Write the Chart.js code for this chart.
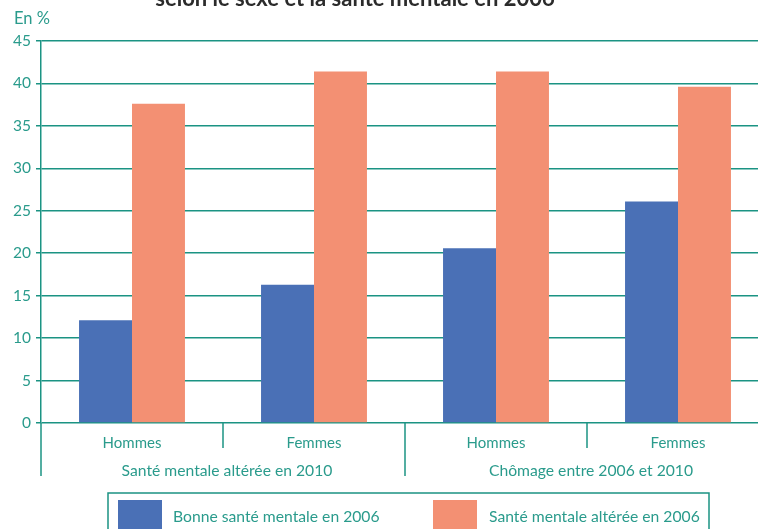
<!DOCTYPE html>
<html>
<head>
<meta charset="utf-8">
<script src="https://cdn.jsdelivr.net/npm/chart.js@4"></script>
<style>
  body { margin: 0; overflow: hidden; background: #fff; }
  #wrap { position: absolute; left: 0; top: 0; width: 769px; height: 529px; }
</style>
</head>
<body>
<div id="wrap"><canvas id="myChart"></canvas></div>
<script>
const categories = ["Hommes", "Femmes", "Hommes", "Femmes"];
const groups = ["Santé mentale altérée en 2010", "Chômage entre 2006 et 2010"];
const bonneSante = [12.1, 16.3, 20.6, 26.1];
const santeAlteree = [37.6, 41.4, 41.4, 39.6];
const seriesNames = ["Bonne santé mentale en 2006", "Santé mentale altérée en 2006"];
const titleText = "selon le sexe et la santé mentale en 2006";
const unitText = "En %";

const teal = '#1b9383';
const tealText = '#2a9b8c';
const font = 'Lato, "Open Sans", sans-serif';

// labels, separators, legend box and cut-off title
const extras = {
    id: 'extras',
    afterDraw(chart) {
        const c = chart.ctx;
        const x = chart.scales.x;
        const area = chart.chartArea;
        c.save();
        c.strokeStyle = teal;
        c.lineWidth = 1.5;

        // y axis going down past zero
        c.beginPath();
        c.moveTo(area.left, area.bottom);
        c.lineTo(area.left, 476);
        c.stroke();

        // separators between categories
        for (let i = 1; i < categories.length; i++) {
            const sx = Math.round((x.getPixelForValue(i - 1) + x.getPixelForValue(i)) / 2);
            c.beginPath();
            c.moveTo(sx, area.bottom);
            c.lineTo(sx, i === 2 ? 476 : 448);
            c.stroke();
        }

        c.fillStyle = tealText;
        c.font = '15px ' + font;
        c.textAlign = 'center';
        c.textBaseline = 'alphabetic';
        categories.forEach((lab, i) => {
            c.fillText(lab, x.getPixelForValue(i), 448);
        });
        c.font = '15.7px ' + font;
        groups.forEach((lab, g) => {
            const gx = (x.getPixelForValue(g * 2) + x.getPixelForValue(g * 2 + 1)) / 2;
            c.fillText(lab, gx + 4, 476);
        });

        // unit label
        c.font = '16.5px ' + font;
        c.textAlign = 'left';
        c.fillText(unitText, 14, 24);

        // title (cut off at the top)
        c.fillStyle = '#2b2b2b';
        c.font = 'bold 22px ' + font;
        c.textAlign = 'center';
        c.fillText(titleText, 355, 6);

        // legend
        c.strokeRect(108, 493, 601, 60);
        const sw = [118, 433];
        const tx = [173, 489];
        chart.data.datasets.forEach((ds, i) => {
            c.fillStyle = ds.backgroundColor;
            c.fillRect(sw[i], 500, 44, 40);
            c.fillStyle = tealText;
            c.font = '15.7px ' + font;
            c.textAlign = 'left';
            c.fillText(ds.label, tx[i], 522);
        });
        c.restore();
    }
};

const ctx = document.getElementById("myChart").getContext('2d');
const myChart = new Chart(ctx, {
    type: 'bar',
    data: {
        labels: categories,
        datasets: [{
            label: seriesNames[0],
            data: bonneSante,
            backgroundColor: '#4a70b6',
            barPercentage: 1,
            categoryPercentage: 0.582
        }, {
            label: seriesNames[1],
            data: santeAlteree,
            backgroundColor: '#f39073',
            barPercentage: 1,
            categoryPercentage: 0.582
        }]
    },
    options: {
        responsive: true,
        maintainAspectRatio: false,
        animation: false,
        layout: { padding: { top: 41, right: 0, bottom: 0, left: 0 } },
        plugins: {
            legend: { display: false },
            tooltip: { enabled: false }
        },
        scales: {
            x: {
                ticks: { display: false },
                grid: { display: false },
                border: { display: false },
                afterFit(scale) { scale.height = 106; }
            },
            y: {
                min: 0,
                max: 45,
                ticks: {
                    stepSize: 5,
                    color: tealText,
                    padding: 5,
                    font: { family: font, size: 15.5 }
                },
                grid: { color: teal, lineWidth: 1.5, tickLength: 5 },
                border: { color: teal, width: 1.5 },
                afterFit(scale) { scale.width = 41; }
            }
        }
    },
    plugins: [extras]
});
</script>
</body>
</html>
